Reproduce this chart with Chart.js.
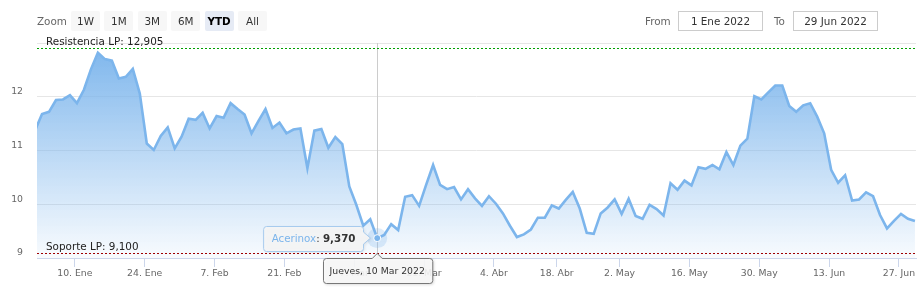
<!DOCTYPE html>
<html lang="es">
<head>
<meta charset="utf-8">
<title>Acerinox · YTD</title>
<script src="https://cdn.jsdelivr.net/npm/chart.js@4.4.1/dist/chart.umd.min.js"></script>
<style>
  html, body { margin: 0; padding: 0; background: #fff; }
  body { width: 924px; height: 291px; overflow: hidden; position: relative; font-family: 'DejaVu Sans', sans-serif; }
  #wrap { position: absolute; left: 0; top: 0; width: 924px; height: 291px; }
  .lbl { position: absolute; top: 11px; height: 20px; line-height: 20px; font-size: 10.4px; color: #666; }
  .btn { position: absolute; top: 11px; width: 29px; height: 20px; line-height: 20px; text-align: center;
         background: #f7f7f7; color: #333; font-size: 10.4px; border-radius: 2px; }
  .btn.on { background: #e6ebf5; font-weight: bold; color: #000; }
  .inp { position: absolute; top: 11px; width: 83px; height: 18px; line-height: 18px; border: 1px solid #ccc;
         text-align: center; color: #333; font-size: 10.4px; background: #fff; }
</style>
</head>
<body>
<div id="wrap"><canvas id="acxChart"></canvas></div>
<div class="lbl" style="left:37px">Zoom</div>
<div id="ranges"></div>
<div class="lbl" style="left:645px">From</div>
<div class="inp" style="left:678px" id="fromBox"></div>
<div class="lbl" style="left:774px">To</div>
<div class="inp" style="left:793px" id="toBox"></div>
<script>
/* ===== Acerinox – cotización YTD ===== */
const SERIES_NAME = 'Acerinox';
const RANGES = ['1W', '1M', '3M', '6M', 'YTD', 'All'];
const ACTIVE_RANGE = 'YTD';
const FROM_DATE = '1 Ene 2022';
const TO_DATE = '29 Jun 2022';

// sesiones bursátiles; el primer valor (30 Dic 2021) queda justo fuera del área visible
const FIRST_INDEX = -1;
const PRICES = [
  11.37,
  11.68, 11.72, 11.94, 11.95, 12.03, 11.88, 12.13, 12.51, 12.82, 12.70,
  12.67, 12.34, 12.37, 12.52, 12.06, 11.13, 11.01, 11.27, 11.43, 11.04,
  11.26, 11.59, 11.57, 11.70, 11.41, 11.64, 11.61, 11.88, 11.77, 11.67,
  11.32, 11.55, 11.77, 11.42, 11.52, 11.32, 11.39, 11.41, 10.67, 11.37,
  11.40, 11.05, 11.25, 11.12, 10.33, 9.99, 9.60, 9.72, 9.37, 9.43,
  9.63, 9.52, 10.14, 10.17, 9.97, 10.36, 10.73, 10.36, 10.28, 10.32,
  10.09, 10.28, 10.11, 9.97, 10.15, 10.01, 9.83, 9.60, 9.39, 9.44,
  9.53, 9.75, 9.75, 9.98, 9.92, 10.08, 10.23, 9.92, 9.47, 9.45,
  9.83, 9.94, 10.09, 9.82, 10.10, 9.78, 9.73, 9.99, 9.91, 9.79,
  10.39, 10.27, 10.44, 10.35, 10.69, 10.66, 10.73, 10.65, 10.97, 10.73,
  11.09, 11.22, 12.01, 11.95, 12.08, 12.21, 12.21, 11.83, 11.72, 11.84,
  11.88, 11.63, 11.32, 10.64, 10.40, 10.54, 10.07, 10.09, 10.22, 10.15,
  9.80, 9.55, 9.69, 9.82, 9.73, 9.69
];

// etiquetas del eje x (índice de sesión)
const TICK_POS = [5, 15, 25, 35, 45, 55, 65, 74, 83, 93, 103, 113, 123];
const TICK_LABELS = ['10. Ene', '24. Ene', '7. Feb', '21. Feb', '7. Mar', '21. Mar', '4. Abr',
                     '18. Abr', '2. May', '16. May', '30. May', '13. Jun', '27. Jun'];
const Y_MIN = 9, Y_MAX = 13;

const RESISTENCIA = 12.905;
const SOPORTE = 9.1;

// punto señalado por el tooltip
const HOVER_INDEX = 48;
const HOVER_DATE = 'Jueves, 10 Mar 2022';

/* ---------- estilo ---------- */
const FONT = "'DejaVu Sans', sans-serif";
const BLUE = '#7cb5ec';
const GRID = '#e6e6e6';
const AXIS = '#ccd6eb';
const TICK = '#666';
const TICK_SHIFT = -0.3;   // las marcas caen a medianoche, antes del cierre

function fmt(v) { return v.toFixed(3).replace('.', ','); }

// selector de rango y fechas (solo visual)
(function () {
  const box = document.getElementById('ranges');
  RANGES.forEach((r, i) => {
    const b = document.createElement('div');
    b.className = 'btn' + (r === ACTIVE_RANGE ? ' on' : '');
    b.style.left = (71 + i * 33.4) + 'px';
    b.textContent = r;
    box.appendChild(b);
  });
  document.getElementById('fromBox').textContent = FROM_DATE;
  document.getElementById('toBox').textContent = TO_DATE;
})();

const points = PRICES.map((v, i) => ({ x: i + FIRST_INDEX, y: v }));

function roundRect(ctx, x, y, w, h, r) {
  ctx.moveTo(x + r, y);
  ctx.lineTo(x + w - r, y); ctx.arcTo(x + w, y, x + w, y + r, r);
  ctx.lineTo(x + w, y + h - r); ctx.arcTo(x + w, y + h, x + w - r, y + h, r);
  ctx.lineTo(x + r, y + h); ctx.arcTo(x, y + h, x, y + h - r, r);
  ctx.lineTo(x, y + r); ctx.arcTo(x, y, x + r, y, r);
}

const overlayPlugin = {
  id: 'overlay',
  beforeDatasetsDraw(chart) {
    // línea vertical del crosshair
    const { ctx, chartArea: a, scales: { x } } = chart;
    const px = Math.round(x.getPixelForValue(HOVER_INDEX)) + 0.5;
    ctx.save();
    ctx.strokeStyle = '#cccccc';
    ctx.lineWidth = 1;
    ctx.beginPath(); ctx.moveTo(px, a.top); ctx.lineTo(px, a.bottom); ctx.stroke();
    ctx.restore();
  },
  afterDatasetsDraw(chart) {
    const { ctx, chartArea: a, scales: { x, y } } = chart;
    // líneas de resistencia / soporte
    [[RESISTENCIA, '#00a000', 'Resistencia LP: '], [SOPORTE, '#a00000', 'Soporte LP: ']].forEach(([v, col, txt]) => {
      const py = Math.round(y.getPixelForValue(v)) + 0.5;
      ctx.save();
      ctx.strokeStyle = col;
      ctx.lineWidth = 1;
      ctx.setLineDash([2, 2]);
      ctx.beginPath(); ctx.moveTo(a.left, py); ctx.lineTo(a.right, py); ctx.stroke();
      ctx.setLineDash([]);
      ctx.fillStyle = '#222';
      ctx.font = '10.4px ' + FONT;
      ctx.textBaseline = 'alphabetic';
      ctx.fillText(txt + fmt(v), a.left + 9, py - 3.5);
      ctx.restore();
    });
    // marcador con halo
    const v = PRICES[HOVER_INDEX - FIRST_INDEX];
    const px = x.getPixelForValue(HOVER_INDEX), py = y.getPixelForValue(v);
    ctx.save();
    ctx.fillStyle = 'rgba(124,181,236,0.25)';
    ctx.beginPath(); ctx.arc(px, py, 10, 0, Math.PI * 2); ctx.fill();
    ctx.fillStyle = BLUE;
    ctx.strokeStyle = '#fff';
    ctx.lineWidth = 1;
    ctx.beginPath(); ctx.arc(px, py, 3.5, 0, Math.PI * 2); ctx.fill(); ctx.stroke();
    ctx.restore();
  },
  afterDraw(chart) {
    const { ctx, chartArea: a, scales: { x, y } } = chart;
    const v = PRICES[HOVER_INDEX - FIRST_INDEX];
    const px = x.getPixelForValue(HOVER_INDEX), py = y.getPixelForValue(v);

    /* tooltip a la izquierda del punto */
    ctx.save();
    const fN = '10.3px ' + FONT, fB = 'bold 10.3px ' + FONT;
    ctx.font = fN;
    const w1 = ctx.measureText(SERIES_NAME).width, w2 = ctx.measureText(': ').width;
    ctx.font = fB;
    const w3 = ctx.measureText(fmt(v)).width;
    const w = w1 + w2 + w3 + 16, h = 25;
    const right = Math.round(px - 14) + 0.5, left = right - w, top = Math.round(py - h / 2) + 0.5;
    ctx.beginPath();
    ctx.moveTo(left + 3, top);
    ctx.lineTo(right - 3, top); ctx.arcTo(right, top, right, top + 3, 3);
    ctx.lineTo(right, py - 6); ctx.lineTo(right + 7, py); ctx.lineTo(right, py + 6);
    ctx.lineTo(right, top + h - 3); ctx.arcTo(right, top + h, right - 3, top + h, 3);
    ctx.lineTo(left + 3, top + h); ctx.arcTo(left, top + h, left, top + h - 3, 3);
    ctx.lineTo(left, top + 3); ctx.arcTo(left, top, left + 3, top, 3);
    ctx.closePath();
    ctx.shadowColor = 'rgba(0,0,0,0.12)'; ctx.shadowOffsetX = 1; ctx.shadowOffsetY = 1; ctx.shadowBlur = 3;
    ctx.fillStyle = 'rgba(247,247,247,0.88)';
    ctx.fill();
    ctx.shadowColor = 'transparent';
    ctx.strokeStyle = '#a7cbee';
    ctx.lineWidth = 1;
    ctx.stroke();
    ctx.textBaseline = 'middle';
    const ty = top + h / 2 + 0.5;
    ctx.font = fN; ctx.fillStyle = BLUE; ctx.fillText(SERIES_NAME, left + 8, ty);
    ctx.fillStyle = '#333'; ctx.fillText(': ', left + 8 + w1, ty);
    ctx.font = fB; ctx.fillText(fmt(v), left + 8 + w1 + w2, ty);
    ctx.restore();

    /* etiqueta de fecha bajo el eje */
    ctx.save();
    ctx.font = '9.3px ' + FONT;
    const dw = ctx.measureText(HOVER_DATE).width + 14, dh = 25;
    const dl = Math.round(px - dw / 2) + 0.5, dt = Math.round(a.bottom) + 0.5;
    ctx.beginPath();
    ctx.moveTo(dl + 3, dt);
    ctx.lineTo(px - 5, dt); ctx.lineTo(px, dt - 5); ctx.lineTo(px + 5, dt);
    ctx.lineTo(dl + dw - 3, dt); ctx.arcTo(dl + dw, dt, dl + dw, dt + 3, 3);
    ctx.lineTo(dl + dw, dt + dh - 3); ctx.arcTo(dl + dw, dt + dh, dl + dw - 3, dt + dh, 3);
    ctx.lineTo(dl + 3, dt + dh); ctx.arcTo(dl, dt + dh, dl, dt + dh - 3, 3);
    ctx.lineTo(dl, dt + 3); ctx.arcTo(dl, dt, dl + 3, dt, 3);
    ctx.closePath();
    ctx.shadowColor = 'rgba(0,0,0,0.2)'; ctx.shadowOffsetX = 1; ctx.shadowOffsetY = 1; ctx.shadowBlur = 3;
    ctx.fillStyle = 'rgba(250,250,250,0.9)';
    ctx.fill();
    ctx.shadowColor = 'transparent';
    ctx.strokeStyle = '#777';
    ctx.lineWidth = 1;
    ctx.stroke();
    ctx.fillStyle = '#333';
    ctx.textAlign = 'center';
    ctx.textBaseline = 'middle';
    ctx.fillText(HOVER_DATE, px, dt + dh / 2 + 1);
    ctx.restore();
  },
};

new Chart(document.getElementById('acxChart'), {
  type: 'line',
  data: {
    datasets: [{
      label: SERIES_NAME,
      data: points,
      borderColor: BLUE,
      borderWidth: 2.6,
      pointRadius: 0,
      tension: 0,
      fill: 'start',
      backgroundColor: c => {
        const a = c.chart.chartArea;
        if (!a) return 'rgba(124,181,236,0.4)';
        const g = c.chart.ctx.createLinearGradient(0, a.top, 0, a.bottom);
        g.addColorStop(0, 'rgba(124,181,236,1)');
        g.addColorStop(1, 'rgba(124,181,236,0.05)');
        return g;
      },
    }],
  },
  options: {
    responsive: true,
    maintainAspectRatio: false,
    animation: false,
    layout: { padding: { top: 43, right: 8, left: 0, bottom: 0 } },
    plugins: { legend: { display: false }, tooltip: { enabled: false } },
    scales: {
      x: {
        type: 'linear',
        min: -0.72,
        max: 125.15,
        afterBuildTicks: s => { s.ticks = TICK_POS.map(p => ({ value: p + TICK_SHIFT })); },
        afterFit: s => { s.height = 33; s.paddingLeft = 0; s.paddingRight = 0; },
        ticks: {
          autoSkip: false, maxRotation: 0, color: TICK, padding: 1,
          font: { family: FONT, size: 9.3 },
          callback: (v, i) => TICK_LABELS[i],
        },
        grid: { drawOnChartArea: false, drawTicks: true, tickLength: 9, color: AXIS },
        border: { display: true, color: AXIS },
      },
      y: {
        min: Y_MIN,
        max: Y_MAX,
        afterFit: s => { s.width = 37; s.paddingTop = 0; s.paddingBottom = 0; },
        ticks: {
          stepSize: 1, color: TICK, padding: 14, labelOffset: -5,
          font: { family: FONT, size: 9.3 },
          callback: v => (v === Y_MAX ? '' : String(v)),
        },
        grid: { color: GRID, drawTicks: false },
        border: { display: false },
      },
    },
  },
  plugins: [overlayPlugin],
});
</script>
</body>
</html>
